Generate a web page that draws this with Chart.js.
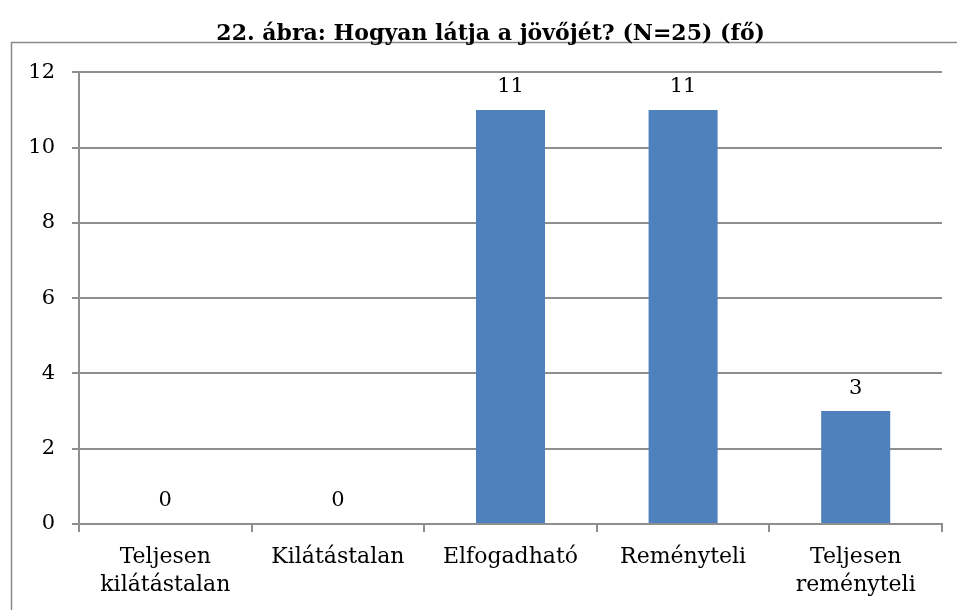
<!DOCTYPE html>
<html>
<head>
<meta charset="utf-8">
<script src="https://cdn.jsdelivr.net/npm/chart.js@4.4.0/dist/chart.umd.min.js"></script>
<style>
  html, body { margin: 0; padding: 0; background: #fff; }
  #wrap { width: 957px; height: 610px; position: relative; }
</style>
</head>
<body>
<div id="wrap"><canvas id="chart" width="957" height="610"></canvas></div>
<script>
const categories = [['Teljesen', 'kilátástalan'], 'Kilátástalan', 'Elfogadható', 'Reményteli', ['Teljesen', 'reményteli']];
const values = [0, 0, 11, 11, 3];
const yTicks = [0, 2, 4, 6, 8, 10, 12];

const gridColor = '#8e8e8e';
const fontFamily = "'DejaVu Serif', 'Liberation Serif', serif";

// outer frame of the chart object
const framePlugin = {
    id: 'frame',
    beforeDraw(chart) {
        const ctx = chart.ctx;
        ctx.save();
        ctx.strokeStyle = '#8a8a8a';
        ctx.lineWidth = 1.5;
        ctx.strokeRect(11.5, 42.5, 1000, 700);
        ctx.restore();
    }
};

// value labels above the bars
const valueLabels = {
    id: 'valueLabels',
    afterDatasetsDraw(chart) {
        const ctx = chart.ctx;
        const meta = chart.getDatasetMeta(0);
        ctx.save();
        ctx.fillStyle = '#000';
        ctx.font = '21px ' + fontFamily;
        ctx.textAlign = 'center';
        ctx.textBaseline = 'middle';
        meta.data.forEach(function(bar, i) {
            ctx.fillText(String(values[i]), bar.x, bar.y - 23);
        });
        ctx.restore();
    }
};

new Chart(document.getElementById('chart'), {
    type: 'bar',
    data: {
        labels: categories,
        datasets: [{
            data: values,
            backgroundColor: '#4f81bd',
            borderWidth: 0,
            categoryPercentage: 1,
            barPercentage: 0.4
        }]
    },
    options: {
        responsive: false,
        animation: false,
        layout: { padding: { left: 24, right: 15, top: 0, bottom: 0 } },
        plugins: {
            legend: { display: false },
            tooltip: { enabled: false },
            title: {
                display: true,
                // leading spaces nudge the centred title a little to the right
                text: '  22. ábra: Hogyan látja a jövőjét? (N=25) (fő)',
                color: '#000',
                font: { family: fontFamily, size: 22, weight: 'bold', lineHeight: 1.2 },
                padding: { top: 21, bottom: 25 }
            }
        },
        scales: {
            x: {
                grid: {
                    offset: true,
                    drawOnChartArea: false,
                    drawTicks: true,
                    tickLength: 8,
                    color: gridColor,
                    lineWidth: 2
                },
                border: { color: gridColor, width: 2 },
                ticks: {
                    color: '#000',
                    padding: 11,
                    maxRotation: 0,
                    autoSkip: false,
                    font: { family: fontFamily, size: 22, lineHeight: 1.27 }
                },
                afterFit(scale) { scale.height = 86; }
            },
            y: {
                min: 0,
                max: 12,
                afterBuildTicks(scale) {
                    scale.ticks = yTicks.map(v => ({ value: v }));
                },
                grid: {
                    color: gridColor,
                    lineWidth: 2,
                    drawTicks: true,
                    tickLength: 7
                },
                border: { color: gridColor, width: 2 },
                ticks: {
                    color: '#000',
                    padding: 17,
                    font: { family: fontFamily, size: 21 }
                },
                afterFit(scale) { scale.width = 55; }
            }
        }
    },
    plugins: [framePlugin, valueLabels]
});
</script>
</body>
</html>
